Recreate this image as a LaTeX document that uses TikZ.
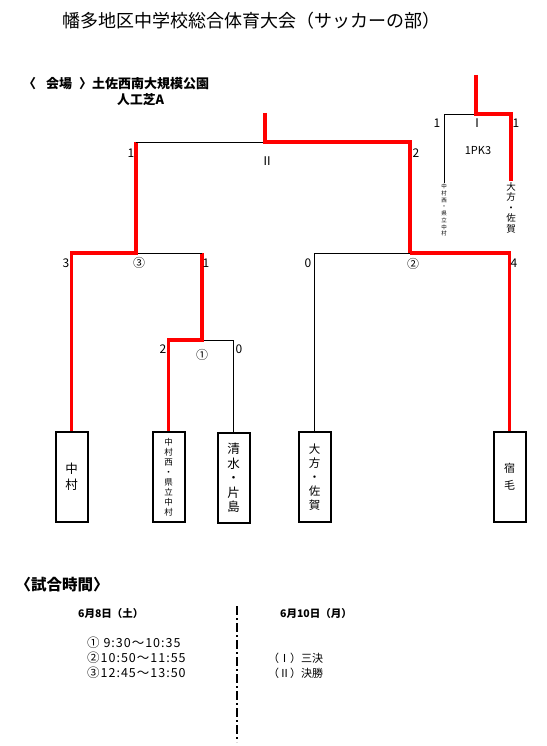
\documentclass[tikz,border=0pt]{standalone}
\usepackage{fontspec}
\setmainfont{Noto Sans CJK JP}
\newfontfamily\widejp{Noto Sans CJK JP}[LetterSpace=8]
\usepackage{tikz}
\usetikzlibrary{positioning,calc}
\definecolor{winred}{RGB}{255,0,0}
\tikzset{
  team/.style={draw=black,line width=2pt,minimum width=32pt,minimum height=90pt,inner sep=1pt,align=center},
  win/.style={draw=winred,line width=3.2pt},
  lose/.style={draw=black,line width=0.9pt},
  score/.style={font={\fontsize{12}{14}\selectfont},inner sep=1pt},
  plain/.style={anchor=west,inner sep=0pt},
}
\begin{document}
\begin{tikzpicture}[x=1pt,y=-1pt]
  \useasboundingbox (0,0) rectangle (546,746);
  % heading
  \node[font={\fontsize{18}{21}\selectfont}] (title) at (251,21) {幡多地区中学校総合体育大会（サッカーの部）};
  \node[plain,font={\fontsize{13}{15}\selectfont\bfseries}] (venue) at (23,84) {〈\hspace{10pt}会場\hspace{7pt}〉土佐西南大規模公園};
  \node[plain,font={\fontsize{12.8}{15}\selectfont\bfseries}] (field) at (117,100) {人工芝A};
  % teams
  \node[team,font={\fontsize{12.5}{16}\selectfont}] (nak) at (71.5,477) {中\\村};
  \node[team,font={\fontsize{8.5}{10}\selectfont}] (nkn) at (168.5,477) {中\\村\\西\\・\\県\\立\\中\\村};
  \node[team,font={\fontsize{12.5}{14.5}\selectfont}] (smz) at (233.5,478) {清\\水\\・\\片\\島};
  \node[team,font={\fontsize{11.5}{14}\selectfont}] (ohg) at (314.5,477) {大\\方\\・\\佐\\賀};
  \node[team,font={\fontsize{11}{17}\selectfont}] (skm) at (509.5,477) {宿\\毛};
  % junctions
  \coordinate (s1) at (202,340);
  \coordinate (s2) at (410,253);
  \coordinate (s3) at (136,253);
  \coordinate (fin) at (265,142);
  \coordinate (fintop) at (265,113);
  \coordinate (thr) at (476,114);
  \coordinate (thrtop) at (476,75);
  % bracket
  \draw[lose] (s1) -| (smz.north);
  \draw[win] (s3 -| s1) -- (s1) -| (nkn.north);
  \draw[lose] (s3) -- (s3 -| s1);
  \draw[win] (nak.north) |- (s3) -- (s3 |- fin);
  \draw[lose] (s2) -| (ohg.north);
  \draw[win] (s2) -| (skm.north);
  \draw[lose] (s3 |- fin) -- (fin);
  \draw[win] (fintop) -- (fin) -| (s2);
  % third place
  \node[anchor=north,inner sep=1pt,align=center,font={\fontsize{5.5}{6.7}\selectfont}] (thl) at (444,183) {中\\村\\西\\・\\県\\立\\中\\村};
  \node[anchor=north,inner sep=1pt,align=center,font={\fontsize{9.5}{10.5}\selectfont}] (thr2) at (511,181) {大\\方\\・\\佐\\賀};
  \draw[lose] (thr) -| (thl.north);
  \draw[win] (thrtop) -- (thr) -| (thr2.north);
  \node[score,font={\fontsize{11}{13}\selectfont}] (pk) at (478,151) {1PK3};
  % scores and match marks
  \foreach \x/\y/\t [count=\i] in {437/123/1, 477/123/Ⅰ, 516/123/1, 131/153/1, 267/161/Ⅱ, 416/153/2,
      66/263/3, 139/263/③, 206/263/1, 163/349/2, 202/355/①, 239/349/0, 308/263/0, 413/264/②, 514/263/4}{
    \node[score] (sc\i) at (\x,\y) {\t};}
  % schedule
  \node[plain,font={\fontsize{15.5}{18}\selectfont\bfseries}] (sched) at (15.5,585) {〈試合時間〉};
  \node[plain,font={\fontsize{10.5}{12}\selectfont\bfseries}] (day1) at (78,614) {6月8日（土）};
  \node[plain,font={\fontsize{10.5}{12}\selectfont\bfseries}] (day2) at (280,614) {6月10日（月）};
  \foreach \y/\t [count=\i] in {643/① 9:30〜10:35, 658/②10:50〜11:55, 673/③12:45〜13:50}{
    \node[plain,font={\fontsize{12.5}{14}\widejp}] (tm\i) at (87,\y) {\t};}
  \node[plain,font={\fontsize{11}{13}\selectfont}] (g1) at (268,658) {（Ⅰ）三決};
  \node[plain,font={\fontsize{11}{13}\selectfont}] (g2) at (268,673) {（Ⅱ）決勝};
  \coordinate (sep1) at (237,606);
  \coordinate (sep2) at (237,742);
  \draw[line width=1.3pt,dash pattern=on 9pt off 3pt on 2pt off 3pt] (sep1) -- (sep2);
\end{tikzpicture}
\end{document}
